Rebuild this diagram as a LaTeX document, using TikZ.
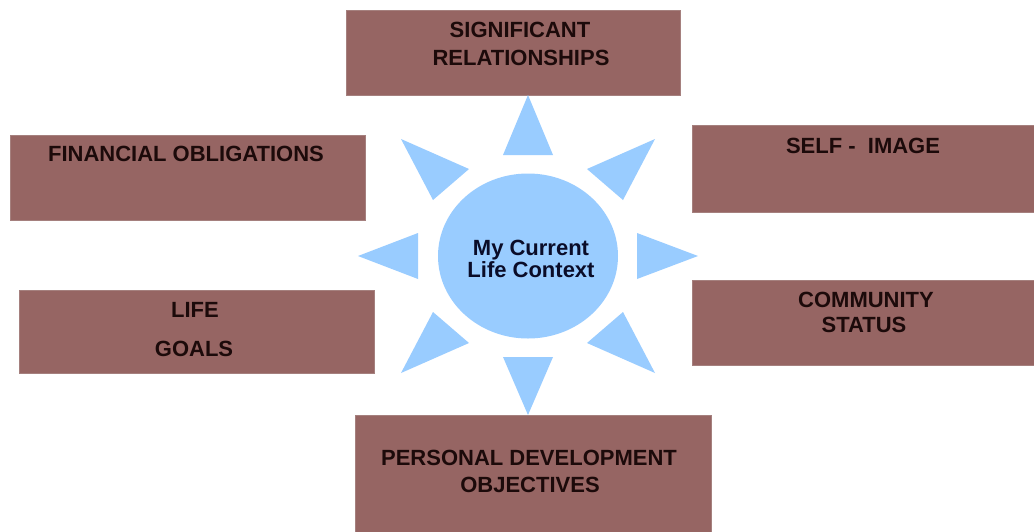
\documentclass[tikz,border=0pt]{standalone}
\usepackage{fontspec}
\setmainfont{Liberation Sans}
\usetikzlibrary{shapes.geometric}
\definecolor{panelfill}{RGB}{150,101,99}
\definecolor{paneledge}{RGB}{165,128,126}
\definecolor{paneltext}{RGB}{28,10,10}
\definecolor{sunblue}{RGB}{153,204,255}
\definecolor{coretext}{RGB}{10,12,40}
\begin{document}
\begin{tikzpicture}[x=1pt,y=-1pt,
  panel/.style={rectangle,fill=panelfill,draw=paneledge,line width=0.8pt,inner sep=0pt,outer sep=0pt},
  caption/.style={anchor=base,inner sep=0pt,text=paneltext,font=\fontsize{22}{26}\selectfont\bfseries},
  coreline/.style={anchor=base,inner sep=0pt,text=coretext,font=\fontsize{22}{26}\selectfont\bfseries},
  ray/.style={fill=sunblue}]
\useasboundingbox (0,0) rectangle (1034,531);
\fill[white] (0,0) rectangle (1034,531);

% the six surrounding panels
\node[panel,minimum width=334pt,minimum height=85pt] (rel)  at (513,52.5)  {};
\node[panel,minimum width=355pt,minimum height=85pt] (fin)  at (187.5,177.5) {};
\node[panel,minimum width=355pt,minimum height=83pt] (goal) at (196.5,331.5) {};
\node[panel,minimum width=344pt,minimum height=87pt] (self) at (864,168.5) {};
\node[panel,minimum width=344pt,minimum height=85pt] (comm) at (864,322.5) {};
\node[panel,minimum width=356pt,minimum height=118pt] (pers) at (533,474) {};

% the sun in the middle
\node[ellipse,fill=sunblue,minimum width=180pt,minimum height=165pt,inner sep=0pt] (core) at (528,256) {};
\begin{scope}[shift={(core.center)}]
  \fill[ray] (0,-161) -- (-25,-101) -- (25,-101) -- cycle;
  \fill[ray] (0,159) -- (-25,101) -- (25,101) -- cycle;
  \fill[ray] (170,0) -- (109,-23) -- (109,23) -- cycle;
  \fill[ray] (-170,0) -- (-110,-23) -- (-110,23) -- cycle;
  \fill[ray] (127,-117) -- (59,-87) -- (95,-56) -- cycle;
  \fill[ray] (-127,-117) -- (-59,-87) -- (-95,-56) -- cycle;
  \fill[ray] (127,117) -- (59,87) -- (95,56) -- cycle;
  \fill[ray] (-127,117) -- (-59,87) -- (-95,56) -- cycle;
\end{scope}

% captions
\node[coreline] (core1) at (531,255) {My Current};
\node[coreline] (core2) at (531,277) {Life Context};

\node[caption] (rel1) at (520,37) {SIGNIFICANT};
\node[caption] (rel2) at (521,65) {RELATIONSHIPS};
\node[caption] (fin1) at (186,161) {FINANCIAL OBLIGATIONS};
\node[caption] (goal1) at (195,317) {LIFE};
\node[caption] (goal2) at (194,356) {GOALS};
\node[caption] (self1) at (863,153) {SELF -\ \ IMAGE};
\node[caption] (comm1) at (866,307) {COMMUNITY};
\node[caption] (comm2) at (864,332) {STATUS};
\node[caption] (pers1) at (529,465) {PERSONAL DEVELOPMENT};
\node[caption] (pers2) at (530,492) {OBJECTIVES};
\end{tikzpicture}
\end{document}
